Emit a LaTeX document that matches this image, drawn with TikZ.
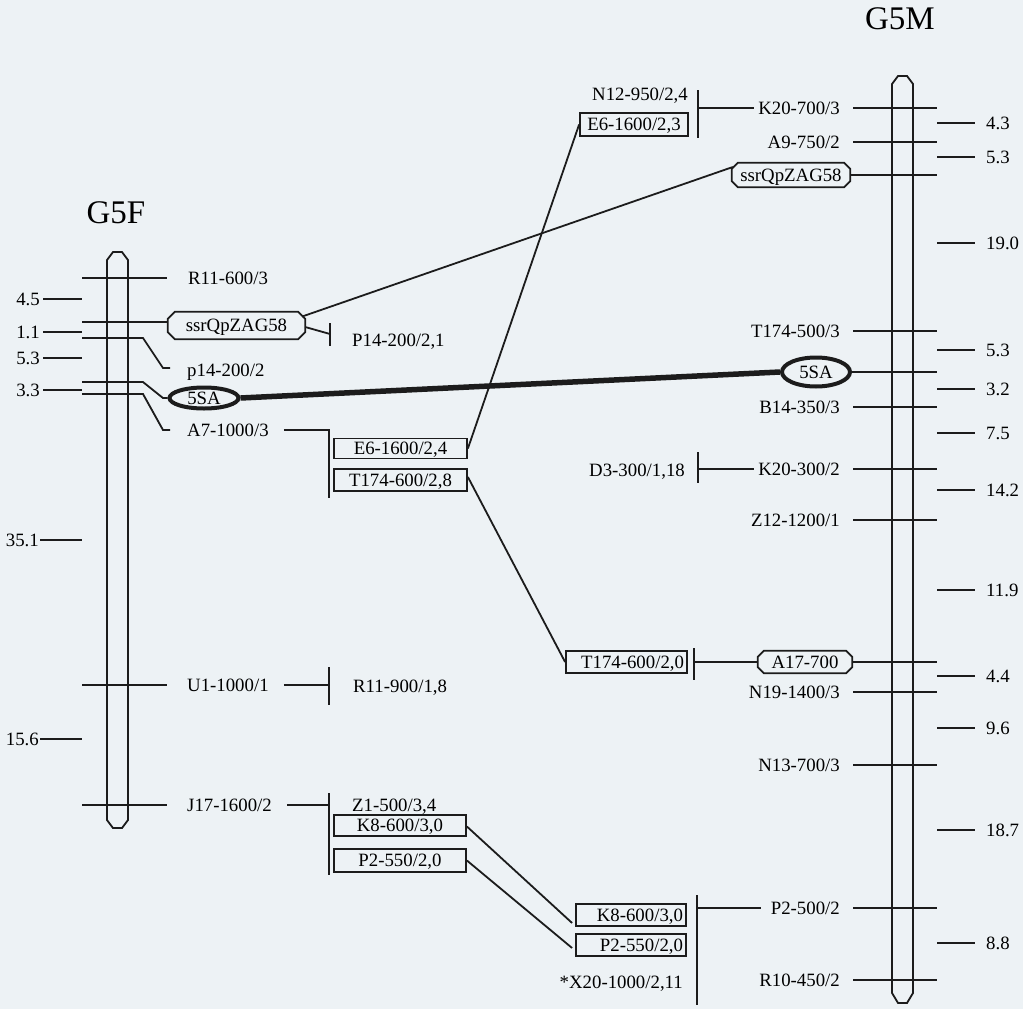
\documentclass[tikz,border=0pt]{standalone}
\usepackage{fontspec}
\setmainfont{Liberation Serif}
\usetikzlibrary{calc,shapes.geometric}
\definecolor{bg}{HTML}{EDF2F5}
\definecolor{ink}{HTML}{1C1C1C}
\newcommand\octpath[2]{%
  \draw[octline] ($(#1.north west)+(#2,0)$) -- ($(#1.north east)+(-#2,0)$) -- ($(#1.north east)+(0,#2)$) -- ($(#1.south east)+(0,-#2)$) -- ($(#1.south east)+(-#2,0)$) -- ($(#1.south west)+(#2,0)$) -- ($(#1.south west)+(0,-#2)$) -- ($(#1.north west)+(0,#2)$) -- cycle;}
\begin{document}
\begin{tikzpicture}[x=1pt,y=-1pt,
  font=\fontsize{18.8}{22}\selectfont,
  lbl/.style={inner sep=0pt, text height=12.5pt, text depth=0pt},
  ln/.style={draw=ink, line width=1.8pt},
  octline/.style={draw=ink, line width=1.7pt},
  boxn/.style={draw=ink, line width=1.8pt, rectangle, inner sep=0pt, text height=12.5pt, text depth=0pt},
  rbox/.style={boxn, inner xsep=3pt, align=right},
  ell/.style={draw=ink, line width=4pt, ellipse, inner sep=0pt, text height=12.5pt, text depth=0pt},
  title/.style={inner sep=0pt, font=\fontsize{33}{36}\selectfont}]
\useasboundingbox (0,0) rectangle (1023,1009);
\fill[bg] (0,0) rectangle (1023,1009);

% titles
\node[title] (tF) at (116,213) {G5F};
\node[title] (tM) at (900,19) {G5M};

% chromosomes
\draw[ln] (107,820) -- (107,260) -- (113,252) -- (122,252) -- (128,260) -- (128,820) -- (122,828) -- (113,828) -- cycle;
\draw[ln] (892,993) -- (892,84) -- (898,76) -- (907,76) -- (913,84) -- (913,993) -- (907,1003) -- (898,1003) -- cycle;

% ---------- left chromosome labels ----------
\node[lbl, anchor=west] (r11) at (188,278) {R11-600/3};
\node[lbl, anchor=west] (p14) at (187,370) {p14-200/2};
\node[lbl, anchor=west] (a7) at (187,430) {A7-1000/3};
\node[lbl, anchor=west] (u1) at (187,685) {U1-1000/1};
\node[lbl, anchor=west] (j17) at (187,805) {J17-1600/2};
\node[lbl, minimum width=137pt, minimum height=27pt] (ssrL) at (236.5,325.5) {ssrQpZAG58};
\octpath{ssrL}{7}
\node[ell, minimum width=69pt, minimum height=21pt] (sL) at (204,398) {5SA};

\foreach \y in {278,685,805} \draw[ln] (82,\y) -- (167,\y);
\draw[ln] (82,322) -- (ssrL.west |- 0,322);
\draw[ln] (82,338) -- (143,338) -- (163,368) -- (170,368);
\draw[ln] (82,382) -- (143,382) -- (163,398) -- (sL.west);
\draw[ln] (82,394) -- (143,394) -- (163,430) -- (170,430);

% left distances
\foreach \y/\t in {299/4.5,332/1.1,358/5.3,390/3.3} {
  \node[lbl, anchor=east] at (40,\y) {\t};
  \draw[ln] (43,\y) -- (82,\y);
}
\foreach \y/\t in {540/35.1,739/15.6} {
  \node[lbl, anchor=east] at (39,\y) {\t};
  \draw[ln] (40,\y) -- (82,\y);
}

% ---------- middle ----------
\node[lbl, anchor=west] (p14b) at (352,340) {P14-200/2,1};
\coordinate (p14bar) at (330,334);
\draw[ln] (330,323) -- (330,346);
\draw[ln] (ssrL.east |- 0,327) -- (p14bar);

\node[boxn, minimum width=133pt, minimum height=20pt] (e624) at (400.5,448.5) {E6-1600/2,4};
\node[boxn, minimum width=133pt, minimum height=22pt] (t28) at (400.5,480) {T174-600/2,8};
\draw[ln] ($(a7.east)+(15,0)$) -| (329,498);

\node[lbl, anchor=west] (r119) at (353,686) {R11-900/1,8};
\draw[ln] ($(u1.east)+(15,0)$) -- (329,685);
\draw[ln] (329,667) -- (329,705);

\node[lbl, anchor=west] (z1) at (352,805) {Z1-500/3,4};
\node[boxn, minimum width=132pt, minimum height=21pt] (k8L) at (400,825.5) {K8-600/3,0};
\node[boxn, minimum width=132pt, minimum height=23pt] (p2L) at (400,860.5) {P2-550/2,0};
\draw[ln] ($(j17.east)+(15,0)$) -- (329,805);
\draw[ln] (329,793) -- (329,875);

% upper middle right
\node[lbl, anchor=east] (n12) at (688,94) {N12-950/2,4};
\node[boxn, minimum width=108pt, minimum height=23pt] (e623) at (634,124.5) {E6-1600/2,3};
\draw[ln] (698,90) -- (698,138);

\node[lbl, anchor=east] (d3) at (685,470) {D3-300/1,18};
\draw[ln] (698,452) -- (698,483);

\node[rbox, text width=115pt, minimum height=22pt] (t20) at (626.5,662) {T174-600/2,0};
\draw[ln] (694,648) -- (694,680);

\node[rbox, text width=104pt, minimum height=22pt] (k8R) at (631,915) {K8-600/3,0};
\node[rbox, text width=104pt, minimum height=22pt] (p2R) at (631,945) {P2-550/2,0};
\node[lbl, anchor=east] (x20) at (683,982) {*X20-1000/2,11};
\draw[ln] (697,895) -- (697,1005);

% ---------- right chromosome labels ----------
\foreach \n/\y/\t in {k207/108/{K20-700/3}, a9/142/{A9-750/2}, t500/331/{T174-500/3}, b14/407/{B14-350/3}, k203/469/{K20-300/2}, z12/520/{Z12-1200/1}, n19/692/{N19-1400/3}, n13/765/{N13-700/3}, p25/908/{P2-500/2}, r10/980/{R10-450/2}} {
  \node[lbl, anchor=east] (\n) at (840,\y) {\t};
  \draw[ln] (853,\y) -- (937,\y);
}
\node[lbl, minimum width=118pt, minimum height=24pt] (ssrR) at (791,175) {ssrQpZAG58};
\octpath{ssrR}{6}
\node[lbl, minimum width=94pt, minimum height=22pt] (a17) at (805,662) {A17-700};
\octpath{a17}{6}
\node[ell, minimum width=68pt, minimum height=29pt] (sR) at (816,372) {5SA};
\draw[ln] (ssrR.east) -- (937,175);
\draw[ln] (a17.east) -- (937,662);
\draw[ln] (sR.east) -- (937,372);

% right distances
\foreach \y/\t in {123/4.3,157/5.3,243/19.0,350/5.3,389/3.2,433/7.5,490/14.2,590/11.9,676/4.4,728/9.6,830/18.7,943/8.8} {
  \draw[ln] (937,\y) -- (975,\y);
  \node[lbl, anchor=west] at (986,\y) {\t};
}

% ---------- connectors ----------
\draw[ln] (698,108) -- ($(k207.west)+(-4,0)$);
\draw[ln] (698,469) -- ($(k203.west)+(-4,0)$);
\draw[ln] (694,662) -- (a17.west);
\draw[ln] (697,908) -- ($(p25.west)+(-10,0)$);

\draw[ln] ($(ssrL.east)+(-3,-9)$) -- ($(ssrR.west)+(1,-8)$);
\draw[ln] (e624.east) -- (e623.west);
\draw[ln] ($(t28.east)+(0,-3)$) -- (t20.west);
\draw[ln] ($(k8L.east)+(0,1)$) -- ($(k8R.west)+(-3,8)$);
\draw[ln] (p2L.east) -- ($(p2R.west)+(-3,3)$);
\draw[draw=ink, line width=5.5pt] (sL.east) -- (sR.west);
\end{tikzpicture}
\end{document}
